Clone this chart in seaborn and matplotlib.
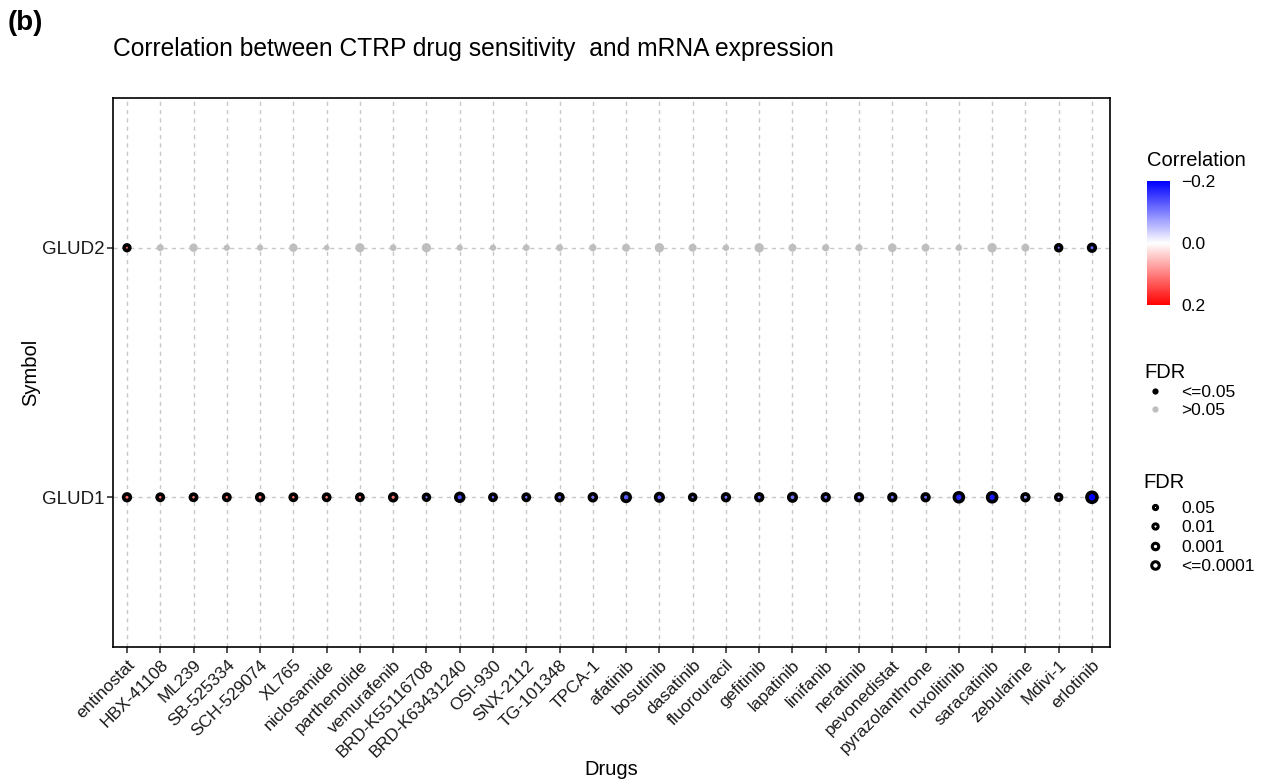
import numpy as np
import pandas as pd
import matplotlib
matplotlib.use('Agg')
import matplotlib.pyplot as plt
import seaborn as sns
from matplotlib.colors import LinearSegmentedColormap, Normalize
from matplotlib.cm import ScalarMappable
from matplotlib.lines import Line2D

# drugs in plotting order (x axis)
drugs = ['entinostat', 'HBX-41108', 'ML239', 'SB-525334', 'SCH-529074', 'XL765',
         'niclosamide', 'parthenolide', 'vemurafenib', 'BRD-K55116708', 'BRD-K63431240',
         'OSI-930', 'SNX-2112', 'TG-101348', 'TPCA-1', 'afatinib', 'bosutinib',
         'dasatinib', 'fluorouracil', 'gefitinib', 'lapatinib', 'linifanib', 'neratinib',
         'pevonedistat', 'pyrazolanthrone', 'ruxolitinib', 'saracatinib', 'zebularine',
         'Mdivi-1', 'erlotinib']
genes = ['GLUD1', 'GLUD2']

# spearman correlation per drug
glud1_cor = [0.12, 0.11, 0.10, 0.11, 0.10, 0.11, 0.10, 0.10, 0.11, -0.11,
             -0.14, -0.12, -0.11, -0.12, -0.11, -0.13, -0.13, -0.09, -0.11, -0.12,
             -0.11, -0.11, -0.10, -0.11, -0.12, -0.17, -0.18, -0.08, -0.08, -0.20]
glud2_cor = [0.12, 0.02, -0.03, 0.01, 0.02, -0.02, 0.01, -0.04, 0.02, -0.04,
             0.01, 0.02, -0.02, 0.03, -0.02, -0.03, -0.05, -0.03, 0.01, -0.05,
             -0.03, -0.02, -0.02, -0.04, -0.03, 0.01, -0.05, -0.03, -0.12, -0.12]

# FDR per drug
glud1_fdr = [0.015, 0.025, 0.025, 0.025, 0.015, 0.025, 0.025, 0.025, 0.012, 0.037,
             0.0035, 0.025, 0.025, 0.015, 0.012, 0.0022, 0.0055, 0.037, 0.015, 0.015,
             0.0055, 0.015, 0.015, 0.015, 0.015, 0.0006, 0.0006, 0.015, 0.037, 0.0001]
glud2_fdr = [0.045, 0.40, 0.14, 0.66, 0.66, 0.14, 0.95, 0.063, 0.50, 0.063,
             0.66, 0.66, 0.50, 0.40, 0.32, 0.19, 0.053, 0.19, 0.57, 0.053,
             0.19, 0.35, 0.35, 0.105, 0.19, 0.57, 0.053, 0.19, 0.037, 0.015]

fdr_breaks = [0.05, 0.01, 0.001, 0.0001]
fdr_break_labels = ['0.05', '0.01', '0.001', '<=0.0001']

d = pd.DataFrame({
    'Drugs': drugs * 2,
    'Symbol': ['GLUD1'] * len(drugs) + ['GLUD2'] * len(drugs),
    'cor': glud1_cor + glud2_cor,
    'fdr': glud1_fdr + glud2_fdr,
})
d['logp'] = -np.log10(d['fdr'])
sig = d[d['fdr'] <= 0.05]
nonsig = d[d['fdr'] > 0.05]

cmap = LinearSegmentedColormap.from_list('bwr_', ['#0000FF', '#FFFFFF', '#FF0000'])
norm = Normalize(-0.2, 0.2)
SIG_SIZES, SIG_NORM = (16, 52), (1.3, 4)

plt.rcParams['font.family'] = ['Liberation Sans', 'DejaVu Sans']
fig = plt.figure(figsize=(12.64, 7.83), dpi=100)
ax = fig.add_axes([0.0894, 0.1737, 0.7887, 0.7011])

sns.scatterplot(data=sig, x='Drugs', y='Symbol', hue='cor', palette=cmap, hue_norm=norm,
                size='logp', sizes=SIG_SIZES, size_norm=SIG_NORM, edgecolor='black',
                linewidth=2.6, legend=False, zorder=3, ax=ax)
sns.scatterplot(data=nonsig, x='Drugs', y='Symbol', color='#BEBEBE', size='logp',
                sizes=(16, 46), size_norm=(0, 1.3), linewidth=0, legend=False, zorder=3, ax=ax)

ax.set_xlim(-0.42, len(drugs) - 1 + 0.54)
ax.set_ylim(-0.6, 1.6)
ax.set_axisbelow(True)
ax.grid(True, ls=(0, (3, 3)), color='#C8C8C8', lw=1)
for s in ax.spines.values():
    s.set_color('black')
    s.set_linewidth(1.2)
ax.tick_params(axis='both', length=4, width=1.2, color='#333333', labelcolor='#1a1a1a')
ax.tick_params(axis='x', labelsize=12.5)
ax.tick_params(axis='y', labelsize=13.5, pad=2)
plt.setp(ax.get_xticklabels(), rotation=45, ha='right', rotation_mode='anchor')
ax.set_xlabel('Drugs', fontsize=14.5)
ax.set_ylabel('Symbol', fontsize=14.5)
ax.xaxis.set_label_coords(0.5, -0.205)
ax.yaxis.set_label_coords(-0.073, 0.5)

fig.text(0.0894, 0.938, 'Correlation between CTRP drug sensitivity  and mRNA expression',
         fontsize=17.7, va='center', ha='left')
fig.text(0.006, 0.971, '(b)', fontsize=20, fontweight='bold', va='center', ha='left')

# colour bar legend
cax = fig.add_axes([0.9075, 0.6105, 0.0182, 0.158])
cb = fig.colorbar(ScalarMappable(norm=norm, cmap=cmap), cax=cax)
cb.outline.set_visible(False)
cax.invert_yaxis()
cb.set_ticks([-0.2, 0.0, 0.2])
cb.set_ticklabels(['\u22120.2', '0.0', '0.2'])
cax.tick_params(length=0, labelsize=12.5, pad=8)
fig.text(0.9075, 0.795, 'Correlation', fontsize=14.5, va='center', ha='left')

# FDR colour legend
h1 = [Line2D([], [], ls='', marker='o', markersize=4.5, markerfacecolor='black',
             markeredgewidth=0),
      Line2D([], [], ls='', marker='o', markersize=4.5, markerfacecolor='#BEBEBE',
             markeredgewidth=0)]
leg1 = fig.legend(h1, ['<=0.05', '>0.05'], title='FDR', loc='upper left',
                  bbox_to_anchor=(0.9, 0.545), frameon=False, fontsize=12.5,
                  title_fontsize=14.5, labelspacing=0.15, handletextpad=0.9,
                  handlelength=1.2, borderaxespad=0)
leg1._legend_box.align = 'left'

# FDR size legend (same size mapping as the significant points)
lp = -np.log10(np.array(fdr_breaks))
leg_s = SIG_SIZES[0] + (SIG_SIZES[1] - SIG_SIZES[0]) * (lp - SIG_NORM[0]) / (SIG_NORM[1] - SIG_NORM[0])
h2 = [Line2D([], [], ls='', marker='o', markersize=np.sqrt(s) * 0.75,
             markerfacecolor='white', markeredgecolor='black', markeredgewidth=2.2)
      for s in leg_s]
fig.text(0.9045, 0.384, 'FDR', fontsize=14.5, va='center', ha='left')
leg2 = fig.legend(h2, fdr_break_labels, loc='upper left',
                  bbox_to_anchor=(0.9, 0.369), frameon=False, fontsize=12.5,
                  labelspacing=0.24, handletextpad=0.9,
                  handlelength=1.2, borderaxespad=0)

fig.savefig('out.png', dpi=100)
